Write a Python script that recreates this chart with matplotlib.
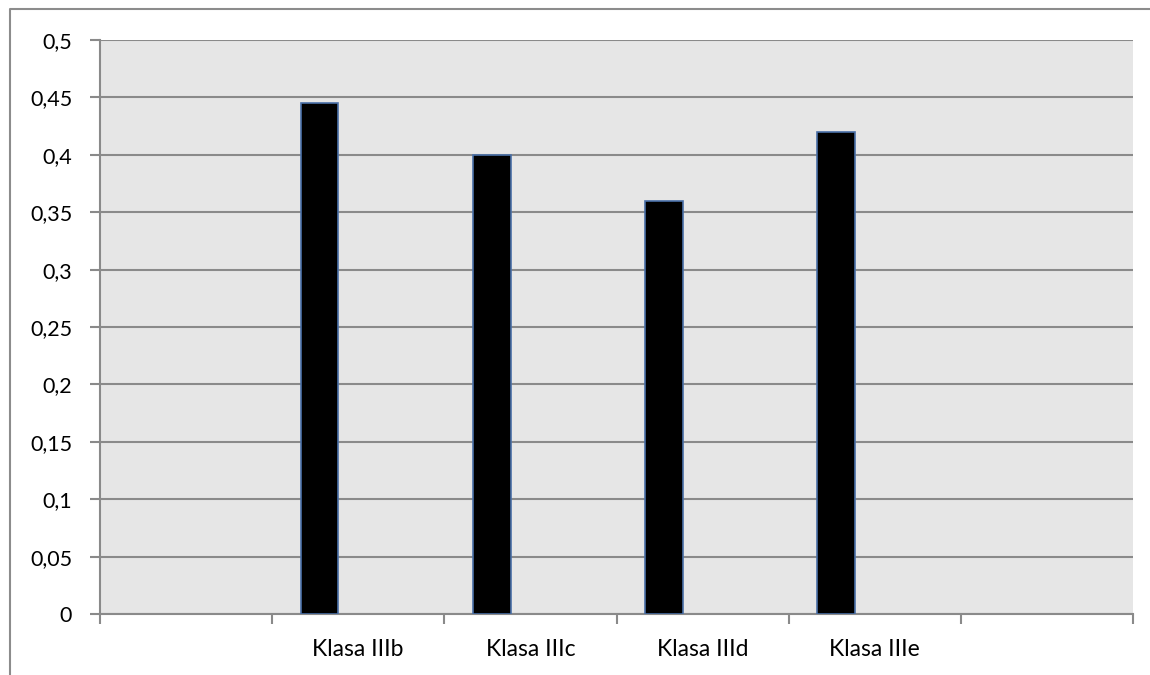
import matplotlib
matplotlib.use("Agg")
import matplotlib.pyplot as plt
from matplotlib.lines import Line2D
import numpy as np

categories = ["", "Klasa IIIb", "Klasa IIIc", "Klasa IIId", "Klasa IIIe", ""]
values = [np.nan, 0.445, 0.40, 0.36, 0.42, np.nan]
y_ticks = [0, 0.05, 0.1, 0.15, 0.2, 0.25, 0.3, 0.35, 0.4, 0.45, 0.5]
y_tick_labels = ["0", "0,05", "0,1", "0,15", "0,2", "0,25", "0,3", "0,35", "0,4", "0,45", "0,5"]

plt.rcParams['font.family'] = ['Lato', 'DejaVu Sans']

fig = plt.figure(figsize=(11.5, 6.75), dpi=100)
fig.patch.set_facecolor("white")
ax = fig.add_axes([100/1150, 1-614/675, 1033/1150, 574/675])
ax.set_facecolor("#e6e6e6")

n = len(categories)
slot_left = np.arange(n)
bar_offset = 0.275
bar_w = 0.22
ax.bar(slot_left + bar_offset, values, width=bar_w, color="black",
       edgecolor="#4a70a8", linewidth=1.2, zorder=3)

ax.set_xlim(0, n)
ax.set_ylim(0, 0.5)
ax.set_yticks(y_ticks)
ax.set_yticklabels(y_tick_labels)
ax.yaxis.grid(True, color="#8a8a8a", linewidth=1.5, zorder=1)
ax.set_axisbelow(True)

ax.set_xticks(np.arange(n + 1))
ax.set_xticklabels([])
ax.set_xticks(slot_left + 0.5, minor=True)
ax.set_xticklabels(categories, minor=True)
ax.tick_params(axis="x", which="minor", length=0, pad=18, labelsize=16.5)
ax.tick_params(axis="x", which="major", length=7, width=1.5, color="#8a8a8a", direction="out")
ax.tick_params(axis="y", length=7, width=1.5, color="#8a8a8a", direction="out", labelsize=15.5, pad=13)

for s in ["top", "right"]:
    ax.spines[s].set_visible(False)
for s in ["left", "bottom"]:
    ax.spines[s].set_color("#8a8a8a")
    ax.spines[s].set_linewidth(1.5)

# outer chart frame
fig.add_artist(Line2D([10/1150, 10/1150, 1.0], [0.0, 1-9/675, 1-9/675],
                      transform=fig.transFigure, color="#8c8c8c", linewidth=1.5))

fig.savefig("out.png", dpi=100)
